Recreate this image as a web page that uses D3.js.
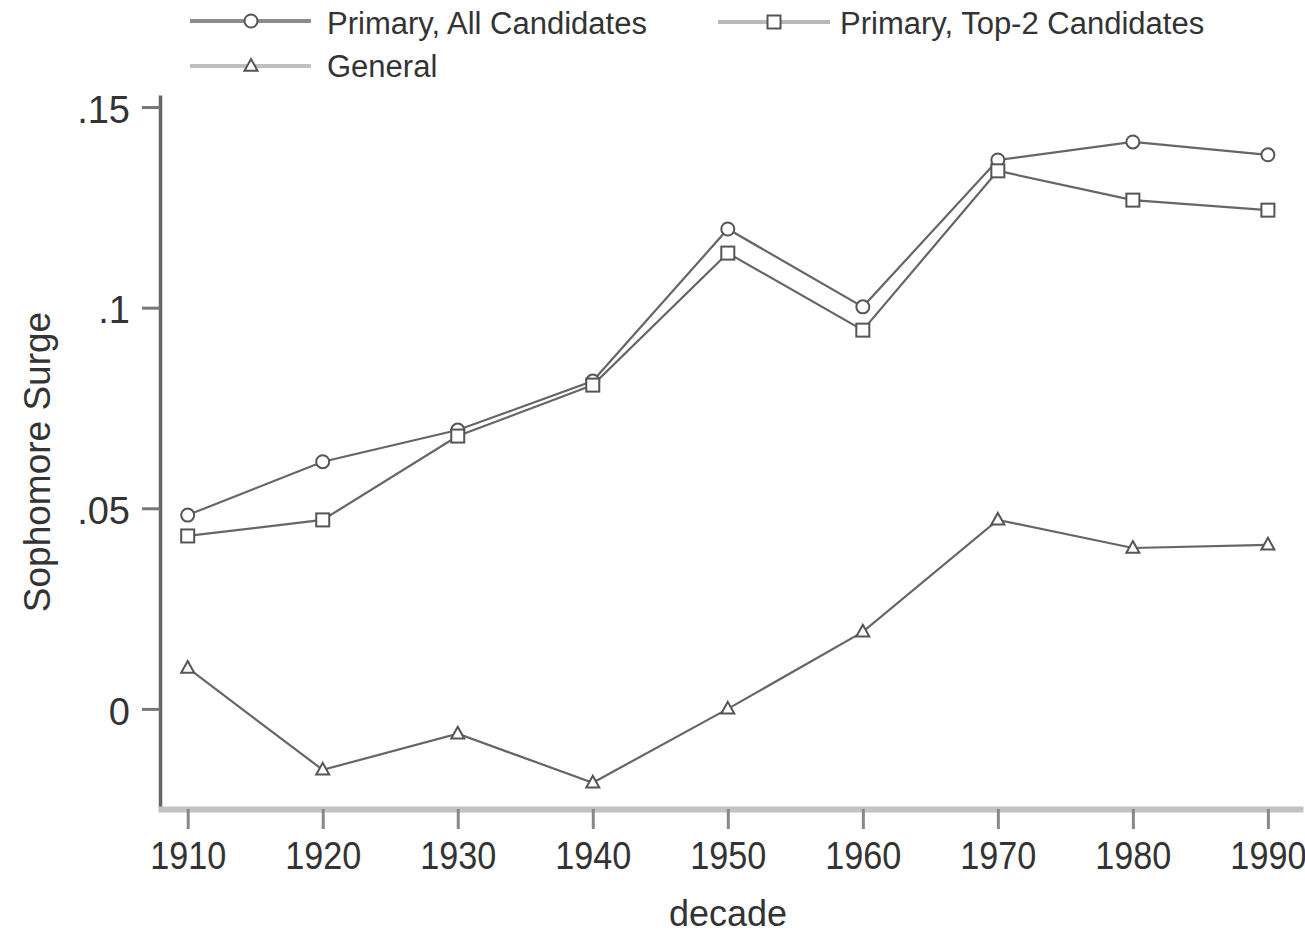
<!DOCTYPE html>
<html>
<head>
<meta charset="utf-8">
<script src="https://cdn.jsdelivr.net/npm/d3@7"></script>
<style>
  html, body { margin: 0; padding: 0; background: #fff; }
  svg { display: block; font-family: "Liberation Sans", Arial, sans-serif; }
</style>
</head>
<body>
<svg id="chart" width="1305" height="934"></svg>
<script>
const decades = [1910, 1920, 1930, 1940, 1950, 1960, 1970, 1980, 1990];
const primaryAll = [0.0483, 0.0616, 0.0695, 0.0817, 0.1196, 0.1002, 0.1368, 0.1413, 0.1381];
const primaryTop2 = [0.0431, 0.0471, 0.0680, 0.0807, 0.1136, 0.0944, 0.1341, 0.1268, 0.1243];
const general = [0.0102, -0.0152, -0.0062, -0.0184, 0.0000, 0.0192, 0.0471, 0.0401, 0.0409];
const yTickValues = [0, 0.05, 0.1, 0.15];
const yTickLabels = ["0", ".05", ".1", ".15"];
const seriesNames = ["Primary, All Candidates", "Primary, Top-2 Candidates", "General"];
const xTitle = "decade";
const yTitle = "Sophomore Surge";

const svg = d3.select("#chart");
const x = d3.scaleLinear().domain([1907.8, 1992.6]).range([158, 1303]);
const y = d3.scaleLinear().domain([-0.0247, 0.153]).range([808, 95]);

const lineColor = "#666";
const series = [
  { name: seriesNames[0], values: primaryAll, marker: "circle", legendColor: "#8c8c8c" },
  { name: seriesNames[1], values: primaryTop2, marker: "square", legendColor: "#b8b8b8" },
  { name: seriesNames[2], values: general, marker: "triangle", legendColor: "#c0c0c0" }
];

// Y axis
const yAxis = d3.axisLeft(y).tickValues(yTickValues)
  .tickFormat((d, i) => yTickLabels[i]).tickSize(18).tickSizeOuter(0).tickPadding(12);
const gy = svg.append("g").attr("transform", "translate(160,0)").call(yAxis);
gy.select(".domain").attr("stroke", "#666").attr("stroke-width", 3.5);
gy.selectAll(".tick line").attr("stroke", "#777").attr("stroke-width", 3);
gy.selectAll(".tick text").attr("fill", "#333").attr("font-size", 38)
  .attr("font-family", "Liberation Sans, Arial, sans-serif").attr("dy", "0.4em");

// X axis
const xAxis = d3.axisBottom(x).tickValues(decades).tickFormat(d3.format("d"))
  .tickSize(20).tickSizeOuter(0).tickPadding(12);
const gx = svg.append("g").attr("transform", "translate(0,809)").call(xAxis);
gx.select(".domain").attr("stroke", "#c2c2c2").attr("stroke-width", 6);
gx.selectAll(".tick line").attr("stroke", "#888").attr("stroke-width", 3);
gx.selectAll(".tick text").attr("fill", "#333").attr("font-size", 38)
  .attr("font-family", "Liberation Sans, Arial, sans-serif").attr("dy", "0.75em")
  .attr("transform", "scale(0.9,1)");

// Axis titles
svg.append("text").attr("x", 728).attr("y", 926).attr("text-anchor", "middle")
  .attr("font-size", 36).attr("fill", "#333").text(xTitle);
svg.append("text").attr("transform", "translate(50,462) rotate(-90)")
  .attr("text-anchor", "middle").attr("font-size", 37).attr("fill", "#333").text(yTitle);

// Marker drawing
function drawMarker(g, type, cx, cy, color, size) {
  if (type === "circle") {
    g.append("circle").attr("cx", cx).attr("cy", cy).attr("r", size * 0.5)
      .attr("fill", "#fff").attr("stroke", color).attr("stroke-width", 2);
  } else if (type === "square") {
    g.append("rect").attr("x", cx - size / 2).attr("y", cy - size / 2)
      .attr("width", size).attr("height", size)
      .attr("fill", "#fff").attr("stroke", color).attr("stroke-width", 2);
  } else {
    const h = size * 0.9;
    g.append("path")
      .attr("d", `M${cx},${cy - h * 0.6}L${cx + size / 2},${cy + h * 0.4}L${cx - size / 2},${cy + h * 0.4}Z`)
      .attr("fill", "#fff").attr("stroke", color).attr("stroke-width", 2);
  }
}

// Lines
const line = d3.line().x((d, i) => x(decades[i])).y(d => y(d));
const plot = svg.append("g");
series.forEach(s => {
  plot.append("path").datum(s.values).attr("d", line)
    .attr("fill", "none").attr("stroke", lineColor).attr("stroke-width", 2.2);
});
series.forEach(s => {
  const g = plot.append("g");
  s.values.forEach((v, i) => drawMarker(g, s.marker, x(decades[i]), y(v), "#555", 13));
});

// Legend
const legendItems = [
  { s: series[0], x0: 190, x1: 311, mx: 251, ly: 21, tx: 327, ty: 34 },
  { s: series[1], x0: 718, x1: 830, mx: 774, ly: 22, tx: 840, ty: 34 },
  { s: series[2], x0: 190, x1: 311, mx: 251, ly: 66, tx: 327, ty: 77 }
];
const lg = svg.append("g");
legendItems.forEach(it => {
  lg.append("line").attr("x1", it.x0).attr("x2", it.x1).attr("y1", it.ly).attr("y2", it.ly)
    .attr("stroke", it.s.legendColor).attr("stroke-width", 4);
  drawMarker(lg, it.s.marker, it.mx, it.ly, "#555", 13);
  lg.append("text").attr("x", it.tx).attr("y", it.ty).attr("font-size", 31)
    .attr("fill", "#333").text(it.s.name);
});
</script>
</body>
</html>
